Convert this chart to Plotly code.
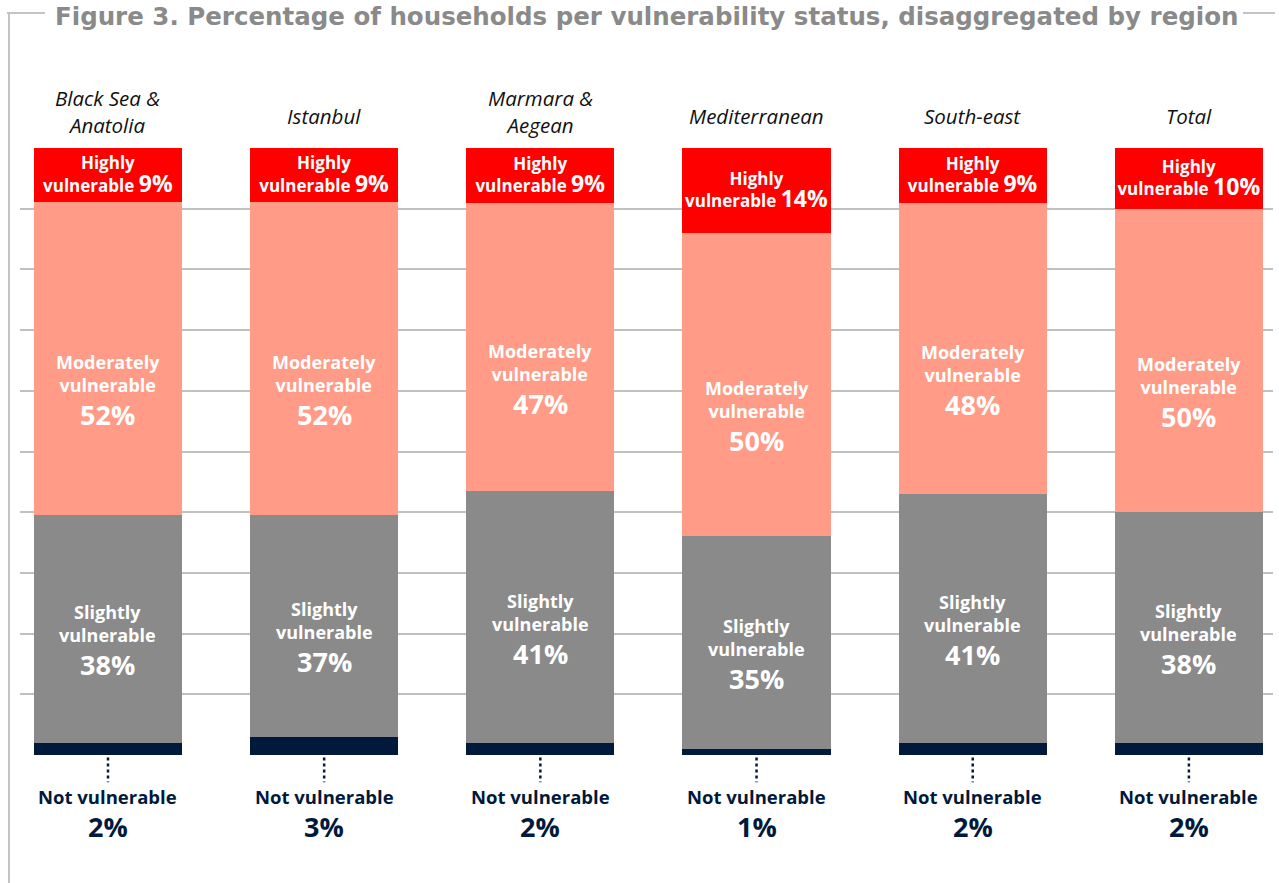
import plotly.graph_objects as go

# regions and shares (%) as printed on the chart
regions = ["Black Sea &<br>Anatolia", "Istanbul", "Marmara &<br>Aegean",
           "Mediterranean", "South-east", "Total"]
not_vuln = [2, 3, 2, 1, 2, 2]
slightly = [38, 37, 41, 35, 41, 38]
moderately = [52, 52, 47, 50, 48, 50]
highly = [9, 9, 9, 14, 9, 10]

NAVY = "#011a3c"
GREY = "#8a8a8a"
SALMON = "#ff9b86"
RED = "#ff0000"
FONT = "Open Sans"

x = list(range(len(regions)))
totals = [a + b + c + d for a, b, c, d in zip(not_vuln, slightly, moderately, highly)]

fig = go.Figure()


def add(vals, color, name, texts=None):
    fig.add_trace(go.Bar(
        x=x, y=vals, name=name, marker=dict(color=color, line=dict(width=0)),
        width=0.685, text=texts, textposition="inside" if texts else "none",
        insidetextanchor="middle", textangle=0, constraintext="none",
        textfont=dict(family=FONT, size=17, color="white", weight=700),
        hoverinfo="skip",
    ))


add(not_vuln, NAVY, "Not vulnerable")
add(slightly, GREY, "Slightly vulnerable")
add(moderately, SALMON, "Moderately vulnerable")
add(highly, RED, "Highly vulnerable",
    ["Highly<br>vulnerable <span style='font-size:23px'>%d%%</span>" % v for v in highly])


# labels for the two large segments: name on two lines, then a bigger percentage
def seg_labels(vals, below, label, shift):
    for i, v in enumerate(vals):
        mid = (below[i] + v / 2) / totals[i] * 100
        fig.add_annotation(x=i, y=mid, xref="x", yref="y", showarrow=False,
                           text=label, yanchor="middle", yshift=15 - shift,
                           font=dict(family=FONT, size=18, color="white", weight=700))
        fig.add_annotation(x=i, y=mid, xref="x", yref="y", showarrow=False,
                           text=f"{v}%", yanchor="middle", yshift=-26 - shift,
                           font=dict(family=FONT, size=27, color="white", weight=700))


seg_labels(slightly, not_vuln, "Slightly<br>vulnerable", 10)
seg_labels(moderately, [a + b for a, b in zip(not_vuln, slightly)], "Moderately<br>vulnerable", 30)

# region names above the bars
for i, name in enumerate(regions):
    fig.add_annotation(x=i, y=1.0594 if "<br>" in name else 1.0527, xref="x", yref="paper",
                       showarrow=False, text=name, yanchor="middle",
                       font=dict(family=FONT, size=20.5, color="#111111", style="italic"))

# not vulnerable labels under the bars
for i, v in enumerate(not_vuln):
    fig.add_shape(type="line", x0=i, x1=i, y0=-0.004, y1=-0.045, xref="x", yref="paper",
                  line=dict(color=NAVY, width=2.5, dash="dot"))
    fig.add_annotation(x=i, y=-0.069, xref="x", yref="paper", showarrow=False,
                       text="Not vulnerable", yanchor="middle",
                       font=dict(family=FONT, size=18.5, color=NAVY, weight=700))
    fig.add_annotation(x=i, y=-0.117, xref="x", yref="paper", showarrow=False,
                       text=f"{v}%", yanchor="middle",
                       font=dict(family=FONT, size=27, color=NAVY, weight=700))

# title and frame
fig.add_annotation(x=0.5, y=1.2438, xref="paper", yref="paper", yanchor="top",
                   text="Figure 3. Percentage of households per vulnerability status, disaggregated by region",
                   showarrow=False, font=dict(family="DejaVu Sans", size=24.5, color="#8a8a8a", weight=700))
frame = dict(color="#c4c4c4", width=2)
fig.add_shape(type="line", xref="paper", yref="paper", x0=-0.0104, x1=0.020, y0=1.2224, y1=1.2224, line=frame)
fig.add_shape(type="line", xref="paper", yref="paper", x0=0.976, x1=1.0016, y0=1.2224, y1=1.2224, line=frame)
fig.add_shape(type="line", xref="paper", yref="paper", x0=-0.0088, x1=-0.0088, y0=1.2224, y1=-0.211, line=frame)

fig.update_layout(
    width=1279, height=883, barmode="stack", barnorm="percent",
    margin=dict(l=20, r=6, t=148, b=128, autoexpand=False),
    plot_bgcolor="white", paper_bgcolor="white", showlegend=False,
    xaxis=dict(range=[-0.407, 5.389], showticklabels=False,
               showgrid=False, zeroline=False, ticks=""),
    yaxis=dict(range=[0, 100], dtick=10, showgrid=True, gridcolor="#c0c0c0",
               gridwidth=2, showticklabels=False, zeroline=False, ticks=""),
)

# drop the default body margin so the figure sits at the page corner
fig.write_html("out.html", config={"displayModeBar": False},
               post_script="document.body.style.margin='0';")
